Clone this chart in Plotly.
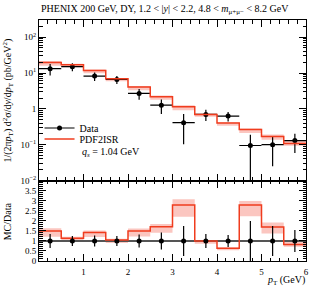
import plotly.graph_objects as go
import numpy as np

# ---- data ----
bin_edges = [0.0, 0.5, 1.0, 1.5, 2.0, 2.5, 3.0, 3.5, 4.0, 4.5, 5.0, 5.5, 6.0]
data_vals = [13.2, 15.0, 8.2, 6.6, 2.7, 1.27, 0.41, 0.70, 0.63, 0.095, 0.10, 0.13]
data_relerr = [0.35, 0.25, 0.27, 0.25, 0.33, 0.43, 0.75, 0.35, 0.30, 1.0, 0.75, 0.55]
mc_vals = [19.8, 17.0, 11.7, 6.9, 4.05, 2.18, 1.15, 0.70, 0.40, 0.266, 0.17, 0.108]
mc_rel_up = [1.09, 1.07, 1.07, 1.06, 1.08, 1.08, 1.10, 1.05, 1.06, 1.07, 1.13, 1.17]
mc_rel_dn = [0.81, 0.85, 0.84, 0.86, 0.82, 0.82, 0.79, 0.86, 0.85, 0.80, 0.81, 0.86]

x_ticks = [1, 2, 3, 4, 5, 6]
main_y_ticks = [0.01, 0.1, 1, 10, 100]
main_y_text = ["10<sup>−2</sup>", "10<sup>−1</sup>", "1", "10<sup>1</sup>", "10<sup>2</sup>"]
ratio_y_ticks = [0, 0.5, 1, 1.5, 2, 2.5, 3, 3.5]

title_text = "PHENIX 200 GeV, DY, 1.2 &lt; |<i>y</i>| &lt; 2.2, 4.8 &lt; <i>m</i><sub>μ+μ−</sub> &lt; 8.2 GeV"

# ---- derived ----
edges = np.array(bin_edges)
centers = 0.5 * (edges[:-1] + edges[1:])
half = 0.5 * (edges[1:] - edges[:-1])
dv = np.array(data_vals)
de = np.array(data_relerr) * dv
mc = np.array(mc_vals)
mc_hi = mc * np.array(mc_rel_up)
mc_lo = mc * np.array(mc_rel_dn)

def step(y):
    y = list(y)
    return y + [y[-1]]

RED = "#f03c1e"
PINK = "rgba(248,160,150,0.6)"
FONT = "Liberation Serif"

fig = go.Figure()

# main panel band
fig.add_trace(go.Scatter(x=edges, y=step(mc_lo), mode="lines", line=dict(width=0, shape="hv"),
                         showlegend=False, hoverinfo="skip", xaxis="x", yaxis="y"))
fig.add_trace(go.Scatter(x=edges, y=step(mc_hi), mode="lines", line=dict(width=0, shape="hv"),
                         fill="tonexty", fillcolor=PINK, showlegend=False, hoverinfo="skip",
                         xaxis="x", yaxis="y"))
# data
fig.add_trace(go.Scatter(x=centers, y=dv, mode="markers",
                         marker=dict(color="black", size=5),
                         error_y=dict(type="data", array=de, arrayminus=np.minimum(de, 0.999 * dv),
                                      color="black", thickness=1.2, width=0),
                         error_x=dict(type="data", array=half, color="black", thickness=1.2, width=0),
                         showlegend=False, xaxis="x", yaxis="y"))
# legend proxy for data
fig.add_trace(go.Scatter(x=[None], y=[None], mode="lines+markers", name="Data",
                         line=dict(color="black", width=1.2), marker=dict(color="black", size=5),
                         legend="legend", xaxis="x", yaxis="y"))
# MC line
fig.add_trace(go.Scatter(x=edges, y=step(mc), mode="lines", name="PDF2ISR",
                         line=dict(color=RED, width=1.5, shape="hv"), legend="legend2",
                         xaxis="x", yaxis="y"))

# ratio panel
r = mc / dv
r_hi = mc_hi / dv
r_lo = mc_lo / dv
fig.add_trace(go.Scatter(x=edges, y=step(r_lo), mode="lines", line=dict(width=0, shape="hv"),
                         showlegend=False, hoverinfo="skip", xaxis="x2", yaxis="y2"))
fig.add_trace(go.Scatter(x=edges, y=step(r_hi), mode="lines", line=dict(width=0, shape="hv"),
                         fill="tonexty", fillcolor=PINK, showlegend=False, hoverinfo="skip",
                         xaxis="x2", yaxis="y2"))
fig.add_trace(go.Scatter(x=edges, y=step(dv / dv), mode="lines",
                         line=dict(color="#555555", width=2, shape="hv"),
                         showlegend=False, xaxis="x2", yaxis="y2"))
fig.add_trace(go.Scatter(x=edges, y=step(r), mode="lines",
                         line=dict(color=RED, width=1.5, shape="hv"),
                         showlegend=False, xaxis="x2", yaxis="y2"))
fig.add_trace(go.Scatter(x=centers, y=dv / dv, mode="markers",
                         marker=dict(color="black", size=5),
                         error_y=dict(type="data", array=np.array(data_relerr), color="black",
                                      thickness=1.2, width=0),
                         showlegend=False, xaxis="x2", yaxis="y2"))

axis_common = dict(showline=True, linecolor="black", linewidth=1, mirror="ticks",
                   ticks="inside", tickcolor="black", showgrid=False, zeroline=False,
                   tickfont=dict(family=FONT, size=9, color="black"))

leg_common = dict(xanchor="left", yanchor="middle", bgcolor="rgba(0,0,0,0)",
                  font=dict(family=FONT, size=10), itemwidth=30, borderwidth=0)

fig.update_layout(
    width=319, height=288,
    margin=dict(l=39, r=10, t=20, b=27),
    paper_bgcolor="white", plot_bgcolor="white",
    font=dict(family=FONT, size=9, color="black"),
    xaxis=dict(domain=[0, 1], range=[0, 6.0001], anchor="y", showticklabels=False,
               tickvals=[0] + x_ticks, ticklen=7,
               minor=dict(dtick=0.2, tick0=0, ticks="inside", ticklen=3.5, tickcolor="black"),
               **axis_common),
    yaxis=dict(domain=[0.334, 1], type="log", range=[-2, 2.48], anchor="x",
               tickvals=main_y_ticks, ticktext=main_y_text, ticklen=7,
               minor=dict(tickmode="array",
                          tickvals=[k * 10.0 ** e for e in range(-2, 3) for k in range(2, 10)],
                          ticks="inside", ticklen=3.5, tickcolor="black"),
               **axis_common),
    xaxis2=dict(domain=[0, 1], range=[0, 6.0001], anchor="y2", matches="x",
                tickvals=x_ticks, ticktext=[str(v) for v in x_ticks], ticklen=7,
                ticklabelstandoff=2,
                minor=dict(dtick=0.2, tick0=0, ticks="inside", ticklen=3.5, tickcolor="black"),
                **axis_common),
    yaxis2=dict(domain=[0, 0.332], range=[0, 4], anchor="x2",
                tickvals=ratio_y_ticks, ticktext=[("%g" % v) for v in ratio_y_ticks], ticklen=7,
                minor=dict(dtick=0.1, tick0=0, ticks="inside", ticklen=3.5, tickcolor="black"),
                **axis_common),
    legend=dict(x=0.002, y=(261 - 128) / 241, **leg_common),
    legend2=dict(x=0.002, y=(261 - 139) / 241, **leg_common),
    annotations=[
        dict(text=title_text, x=0, y=1.045, xref="paper", yref="paper",
             xanchor="left", yanchor="middle", showarrow=False, font=dict(size=10)),
        dict(text="<i>q<sub>s</sub></i> = 1.04 GeV", x=(80 - 39) / 270, y=(261 - 152) / 241,
             xref="paper", yref="paper",
             xanchor="left", yanchor="middle", showarrow=False, font=dict(size=10)),
        dict(text="1/(2π<i>p</i><sub>T</sub>) d<sup>2</sup>σ/d<i>y</i>/d<i>p</i><sub>T</sub> (pb/GeV<sup>2</sup>)",
             x=-0.115, y=0.5, xref="paper", yref="y domain", textangle=-90,
             xanchor="center", yanchor="middle", showarrow=False, font=dict(size=10)),
        dict(text="MC/Data", x=-0.115, y=0.5, xref="paper", yref="y2 domain", textangle=-90,
             xanchor="center", yanchor="middle", showarrow=False, font=dict(size=10)),
        dict(text="<i>p</i><sub>T</sub> (GeV)", x=1.004, y=(261 - 280) / 241, xref="paper", yref="paper",
             xanchor="right", yanchor="middle", showarrow=False, font=dict(size=10)),
    ],
)

fig.write_html("out.html", config={"displayModeBar": False},
               post_script="document.body.style.margin='0';document.body.style.overflow='hidden';")
